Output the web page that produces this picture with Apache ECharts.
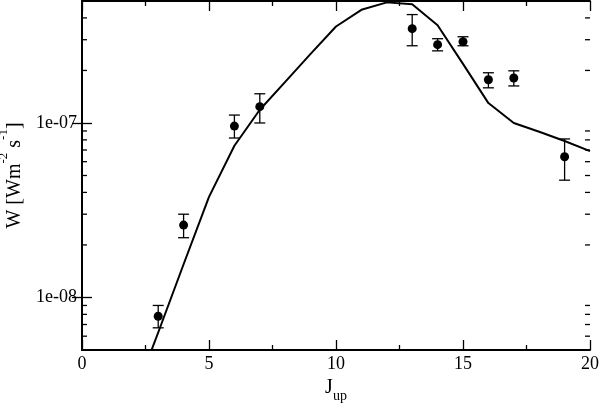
<!DOCTYPE html>
<html><head><meta charset="utf-8">
<script src="https://cdn.jsdelivr.net/npm/echarts@6/dist/echarts.min.js"></script>
<style>html,body{margin:0;padding:0;background:#fff}#c{width:599px;height:404px}</style>
</head><body><div id="c"></div>
<script>
// Observed line fluxes
const jObs  = [3, 4, 6, 7, 13, 14, 15, 16, 17, 19];
const wObs  = [7.8e-9, 2.6e-8, 9.6e-8, 1.24e-7, 3.47e-7, 2.81e-7, 2.92e-7, 1.77e-7, 1.81e-7, 6.4e-8];
const wLow  = [6.7e-9, 2.2e-8, 8.2e-8, 1.0e-7, 2.77e-7, 2.59e-7, 2.77e-7, 1.59e-7, 1.63e-7, 4.7e-8];
const wHigh = [9.0e-9, 3.0e-8, 1.11e-7, 1.47e-7, 4.18e-7, 3.04e-7, 3.12e-7, 1.94e-7, 1.99e-7, 8.1e-8];
// Model curve
const jModel = [2, 3, 4, 5, 6, 7, 8, 9, 10, 11, 12, 13, 14, 15, 16, 17, 18, 19, 20];
const wModel = [2.6e-9, 6.3e-9, 1.55e-8, 3.77e-8, 7.4e-8, 1.19e-7, 1.72e-7, 2.49e-7, 3.57e-7, 4.45e-7,
                4.91e-7, 4.79e-7, 3.63e-7, 2.18e-7, 1.30e-7, 1.0e-7, 8.9e-8, 7.88e-8, 6.9e-8];
// Ticks
const yMajorTicks = [1e-8, 1e-7];
const yTickLabels = ['1e-08', '1e-07'];
const yMinorTicks = [6e-9, 7e-9, 8e-9, 9e-9, 2e-8, 3e-8, 4e-8, 5e-8, 6e-8, 7e-8, 8e-8, 9e-8, 2e-7, 3e-7, 4e-7];
const xTickLabels = ['0', '5', '10', '15', '20'];

const FONT = '"Liberation Serif", "DejaVu Serif", serif';
const yMin = 5e-9, yMax = 5e-7;

function yLabel(v) {
  for (let i = 0; i < yMajorTicks.length; i++) {
    if (Math.abs(Math.log10(v) - Math.log10(yMajorTicks[i])) < 1e-6) return yTickLabels[i];
  }
  return '';
}

function yAxisDef(pos, withLabels) {
  const a = {
    type: 'log', logBase: 10, min: yMin, max: yMax, position: pos, offset: 0,
    axisLine: { show: true, lineStyle: { color: '#000', width: 2 } },
    axisTick: { show: true, inside: true, length: 10,
      customValues: yMajorTicks,
      lineStyle: { color: '#000', width: 1.3 } },
    axisLabel: { show: withLabels, customValues: yMajorTicks, formatter: yLabel,
      fontFamily: FONT, fontSize: 18, color: '#000', margin: 5 },
    minorTick: { show: false },
    splitLine: { show: false }
  };
  if (withLabels) {
    a.name = '{m|W [Wm}{s|-2}{m| s}{s|-1}{m|]}';
    a.nameLocation = 'middle';
    a.nameGap = 46;
    a.nameTextStyle = {
      rich: {
        m: { fontFamily: FONT, fontSize: 20, color: '#000', verticalAlign: 'bottom', lineHeight: 28 },
        s: { fontFamily: FONT, fontSize: 13, color: '#000', verticalAlign: 'top', lineHeight: 28 }
      }
    };
  }
  return a;
}

function xAxisDef(pos, withLabels) {
  const a = {
    type: 'value', min: 0, max: 20, interval: 5, position: pos,
    axisLine: { show: true, onZero: false, lineStyle: { color: '#000', width: 2 } },
    axisTick: { show: true, inside: true, length: 10, lineStyle: { color: '#000', width: 1.3 } },
    minorTick: { show: true, splitNumber: 2, length: 5, lineStyle: { color: '#000', width: 1.3 } },
    axisLabel: { show: withLabels, fontFamily: FONT, fontSize: 18, color: '#000', margin: 5,
      formatter: (v) => xTickLabels[Math.round(v / 5)] },
    splitLine: { show: false }
  };
  if (withLabels) {
    a.name = '{m|J}{b|up}';
    a.nameLocation = 'middle';
    a.nameGap = 16;
    a.nameTextStyle = {
      rich: {
        m: { fontFamily: FONT, fontSize: 20, color: '#000', verticalAlign: 'top', lineHeight: 20 },
        b: { fontFamily: FONT, fontSize: 14, color: '#000', verticalAlign: 'bottom', lineHeight: 25 }
      }
    };
  }
  return a;
}

const chart = echarts.init(document.getElementById('c'), null, { renderer: 'canvas' });
chart.setOption({
  animation: false,
  backgroundColor: '#fff',
  grid: { left: 82, right: 9, top: 1, bottom: 54, containLabel: false, outerBoundsMode: 'none' },
  xAxis: [xAxisDef('bottom', true), xAxisDef('top', false)],
  yAxis: [yAxisDef('left', true), yAxisDef('right', false)],
  series: [
    {
      // minor log ticks on left and right frame edges
      type: 'custom', xAxisIndex: 0, yAxisIndex: 0,
      data: yMinorTicks.map((v) => [0, v]),
      encode: { x: 0, y: 1 },
      clip: false, silent: true,
      renderItem: function (params, api) {
        const cs = params.coordSys;
        const p = api.coord([0, api.value(1)]);
        const st = { stroke: '#000', lineWidth: 1.3 };
        return {
          type: 'group',
          children: [
            { type: 'line', shape: { x1: cs.x, y1: p[1], x2: cs.x + 5, y2: p[1] }, style: st },
            { type: 'line', shape: { x1: cs.x + cs.width, y1: p[1], x2: cs.x + cs.width - 5, y2: p[1] }, style: st }
          ]
        };
      },
      z: 1
    },
    {
      type: 'line', xAxisIndex: 0, yAxisIndex: 0,
      data: jModel.map((j, i) => [j, wModel[i]]),
      showSymbol: false, symbol: 'none', clip: true,
      lineStyle: { color: '#000', width: 2 }, z: 2
    },
    {
      type: 'custom', xAxisIndex: 0, yAxisIndex: 0,
      data: jObs.map((j, i) => [j, wLow[i], wHigh[i]]),
      encode: { x: 0, y: [1, 2] },
      renderItem: function (params, api) {
        const x = api.value(0);
        const pLo = api.coord([x, api.value(1)]);
        const pHi = api.coord([x, api.value(2)]);
        const hw = 5.5;
        const st = { stroke: '#000', lineWidth: 1.3 };
        return {
          type: 'group',
          children: [
            { type: 'line', shape: { x1: pLo[0], y1: pLo[1], x2: pHi[0], y2: pHi[1] }, style: st },
            { type: 'line', shape: { x1: pLo[0] - hw, y1: pLo[1], x2: pLo[0] + hw, y2: pLo[1] }, style: st },
            { type: 'line', shape: { x1: pHi[0] - hw, y1: pHi[1], x2: pHi[0] + hw, y2: pHi[1] }, style: st }
          ]
        };
      },
      z: 3
    },
    {
      type: 'scatter', xAxisIndex: 0, yAxisIndex: 0,
      data: jObs.map((j, i) => [j, wObs[i]]),
      symbol: 'circle', symbolSize: 9,
      itemStyle: { color: '#000', opacity: 1 }, z: 4
    }
  ]
});
</script>
</body></html>
